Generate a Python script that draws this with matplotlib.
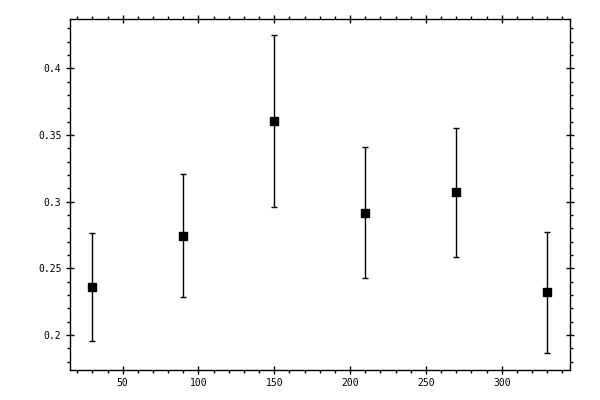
import matplotlib
matplotlib.use("Agg")
import matplotlib.pyplot as plt
from matplotlib.ticker import MultipleLocator
import numpy as np

x = [30, 90, 150, 210, 270, 330]
y = [0.236, 0.2742, 0.3605, 0.2914, 0.3071, 0.2324]
y_low = [0.1957, 0.2287, 0.296, 0.2427, 0.2584, 0.1868]
y_high = [0.2764, 0.3206, 0.425, 0.3408, 0.355, 0.2774]

yerr = [np.array(y) - np.array(y_low), np.array(y_high) - np.array(y)]

fig = plt.figure(figsize=(6, 4), dpi=100)
ax = fig.add_axes([0.116, 0.075, 0.834, 0.8775])
ax.errorbar(x, y, yerr=yerr, fmt='s', color='black', ms=5.5, capsize=2.5,
            elinewidth=1, capthick=1, ecolor='black')
ax.set_xlim(15, 345)
ax.set_ylim(0.1737, 0.437)
ax.xaxis.set_major_locator(MultipleLocator(50))
ax.xaxis.set_minor_locator(MultipleLocator(10))
ax.yaxis.set_major_locator(MultipleLocator(0.05))
ax.yaxis.set_minor_locator(MultipleLocator(0.01))
ax.set_xticks([50, 100, 150, 200, 250, 300])
ax.set_xticklabels(['50', '100', '150', '200', '250', '300'])
ax.set_yticks([0.2, 0.25, 0.3, 0.35, 0.4])
ax.set_yticklabels(['0.2', '0.25', '0.3', '0.35', '0.4'])
ax.tick_params(which='major', direction='inout', length=5.8, width=1,
               top=True, right=True, labelsize=7, pad=3)
ax.tick_params(which='minor', direction='out', length=2.2, width=1,
               top=True, right=True)
for lab in ax.get_xticklabels() + ax.get_yticklabels():
    lab.set_family('DejaVu Sans Mono')
for s in ax.spines.values():
    s.set_linewidth(1)
fig.savefig('out.png', dpi=100)
